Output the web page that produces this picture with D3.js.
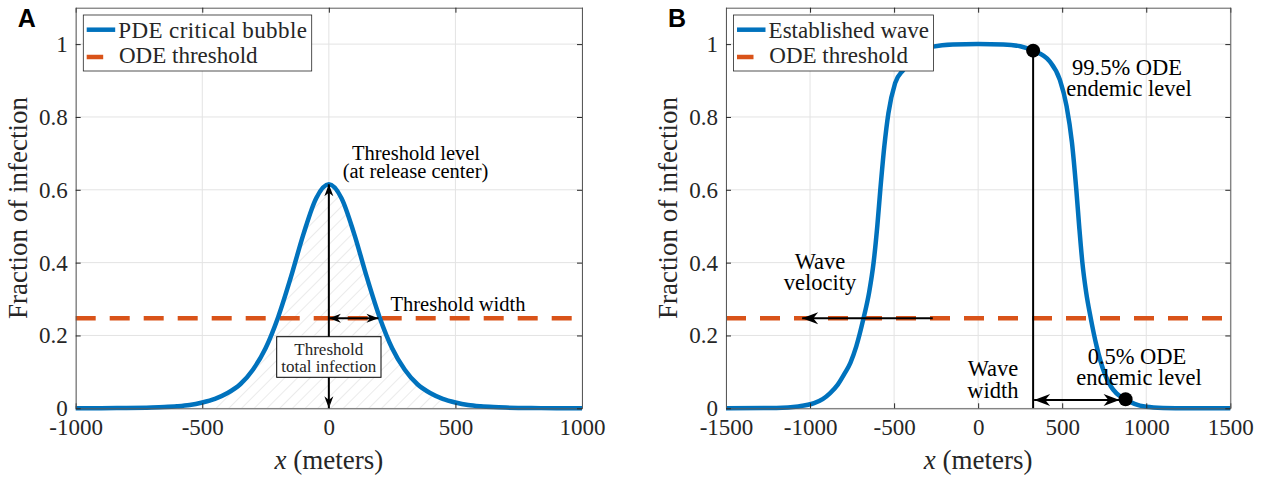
<!DOCTYPE html>
<html>
<head>
<meta charset="utf-8">
<script src="https://cdn.jsdelivr.net/npm/d3@7"></script>
<style>
  body { margin: 0; background: #fff; }
  svg text { font-family: "Liberation Serif", "Times New Roman", serif; fill: #262626; }
</style>
</head>
<body>
<svg id="chart" width="1271" height="479"></svg>
<script>
// ---- data ----
// panel A: critical bubble (x in meters, fraction of infection)
const bubbleX = [-1000, -900, -800, -700, -650, -600, -550, -500, -450, -400, -350, -300, -250, -200, -150, -100, -50, 0,
                 50, 100, 150, 200, 250, 300, 350, 400, 450, 500, 550, 600, 650, 700, 800, 900, 1000];
const bubbleY = [0.0001, 0.0003, 0.0007, 0.002, 0.0033, 0.0054, 0.009, 0.016, 0.026, 0.042, 0.066, 0.106, 0.165, 0.251, 0.36, 0.479, 0.577, 0.615,
                 0.577, 0.479, 0.36, 0.251, 0.165, 0.106, 0.066, 0.042, 0.026, 0.016, 0.009, 0.0054, 0.0033, 0.002, 0.0007, 0.0003, 0.0001];
// panel B: established wave
const waveX = [-1500, -1200, -1070, -976, -925, -882, -835, -795, -760, -725, -682, -648, -622, -600, -582, -558, -534, -494, -444, -400, -350, -268, -150, 0,
               150, 250, 327, 427, 486, 526, 558, 584, 601, 620, 642, 670, 705, 752, 790, 823, 877, 930, 1000, 1100, 1250, 1500];
const waveY = [0, 0.001, 0.005, 0.014, 0.025, 0.041, 0.065, 0.095, 0.125, 0.17, 0.247, 0.32, 0.40, 0.50, 0.60, 0.72, 0.81, 0.893, 0.93, 0.955, 0.975, 0.993, 0.999, 1.0,
               0.999, 0.994, 0.982, 0.952, 0.902, 0.83, 0.73, 0.60, 0.50, 0.40, 0.32, 0.247, 0.17, 0.096, 0.06, 0.041, 0.025, 0.012, 0.004, 0.001, 0, 0];
const odeThreshold = 0.247;
const yTicks = [0, 0.2, 0.4, 0.6, 0.8, 1];
const xTicksA = [-1000, -500, 0, 500, 1000];
const xTicksB = [-1500, -1000, -500, 0, 500, 1000, 1500];
const hatchRange = [-450, 450];
const thresholdWidth = 196;      // half width of bubble at the ODE threshold
const peakLevel = 0.615;
const waveTopX = 327, waveTopY = 0.982;   // 99.5% point
const waveLowX = 877, waveLowY = 0.025;   // 0.5% point
const velocityArrow = [-270, -1047];

const blue = "#0072BD", orange = "#D95319";
const svg = d3.select("#chart");

const defs = svg.append("defs");
// arrow heads (MATLAB-ish)
function head(id, len, half) {
    defs.append("marker")
        .attr("id", id)
        .attr("viewBox", `${-len - 1} ${-half - 1} ${len + 2} ${2 * half + 2}`)
        .attr("refX", 0).attr("refY", 0)
        .attr("markerWidth", len + 2).attr("markerHeight", 2 * half + 2)
        .attr("markerUnits", "userSpaceOnUse")
        .attr("orient", "auto-start-reverse")
        .append("path")
        .attr("d", `M0,0 L${-len},${-half} L${-len * 0.7},0 L${-len},${half} Z`)
        .attr("fill", "#000");
}
head("headA", 12, 4.5);
head("headB", 16, 6);
// hatch pattern
const pat = defs.append("pattern")
    .attr("id", "hatch")
    .attr("patternUnits", "userSpaceOnUse")
    .attr("width", 9).attr("height", 9)
    .attr("patternTransform", "rotate(45)");
pat.append("line")
    .attr("x1", 0).attr("y1", 0).attr("x2", 0).attr("y2", 9)
    .attr("stroke", "#d2d2d2").attr("stroke-width", 0.9);

function panel(opts) {
    const x = d3.scaleLinear().domain(opts.xDomain).range([opts.left, opts.right]);
    const y = d3.scaleLinear().domain([0, 1.1]).range([408.3, 7.7]);
    const g = svg.append("g");

    // grid
    g.append("g").selectAll("line")
        .data(opts.xTicks)
        .join("line")
        .attr("x1", d => x(d)).attr("x2", d => x(d))
        .attr("y1", y(0)).attr("y2", y(1.1))
        .attr("stroke", "#e3e3e3").attr("stroke-width", 1);
    g.append("g").selectAll("line")
        .data(yTicks)
        .join("line")
        .attr("x1", opts.left).attr("x2", opts.right)
        .attr("y1", d => y(d)).attr("y2", d => y(d))
        .attr("stroke", "#e3e3e3").attr("stroke-width", 1);

    return { x, y, g };
}

function axes(p, opts) {
    const { x, y, g } = p;
    const fmt = d => d3.format("")(d).replace("−", "-");
    const bottom = g.append("g")
        .attr("transform", `translate(0,${y(0)})`)
        .call(d3.axisBottom(x).tickValues(opts.xTicks).tickSize(-5).tickSizeOuter(0).tickPadding(11).tickFormat(fmt));
    const top = g.append("g")
        .attr("transform", `translate(0,${y(1.1)})`)
        .call(d3.axisTop(x).tickValues(opts.xTicks).tickSize(-5).tickSizeOuter(0).tickFormat(""));
    const left = g.append("g")
        .attr("transform", `translate(${opts.left},0)`)
        .call(d3.axisLeft(y).tickValues(yTicks).tickSize(-5).tickSizeOuter(0).tickPadding(8).tickFormat(d => d === 0 || d === 1 ? d : d3.format(".1f")(d)));
    const right = g.append("g")
        .attr("transform", `translate(${opts.right},0)`)
        .call(d3.axisRight(y).tickValues(yTicks).tickSize(-5).tickSizeOuter(0).tickFormat(""));
    [bottom, top, left, right].forEach(a => {
        a.select(".domain").attr("stroke", "#5a5a5a").attr("stroke-width", 1);
        a.selectAll(".tick line").attr("stroke", "#262626");
        a.selectAll("text").attr("font-size", 23).attr("fill", "#262626");
    });
    bottom.selectAll("text").attr("dy", "0.68em");

    // axis labels
    const xl = g.append("text")
        .attr("x", (opts.left + opts.right) / 2).attr("y", 469)
        .attr("text-anchor", "middle").attr("font-size", 27);
    xl.append("tspan").attr("font-style", "italic").text("x");
    xl.append("tspan").text(" (meters)");
    g.append("text")
        .attr("transform", `translate(${opts.left - 58},${y(0.55)}) rotate(-90)`)
        .attr("text-anchor", "middle").attr("dy", "0.35em")
        .attr("font-size", 27)
        .text("Fraction of infection");

    // panel letter
    g.append("text")
        .attr("x", opts.left - 58).attr("y", 27)
        .style("font-family", "'Liberation Sans', Arial, sans-serif").attr("font-weight", "bold")
        .attr("font-size", 25).style("fill", "#000")
        .text(opts.letter);
}

function legend(p, opts) {
    const lg = p.g.append("g");
    lg.append("rect")
        .attr("x", opts.left + 7.6).attr("y", 15)
        .attr("width", opts.legendW).attr("height", 56)
        .attr("fill", "#fff").attr("stroke", "#262626").attr("stroke-width", 0.8);
    lg.append("line")
        .attr("x1", opts.left + 11).attr("x2", opts.left + 39.5)
        .attr("y1", 29.7).attr("y2", 29.7)
        .attr("stroke", blue).attr("stroke-width", 4.5);
    lg.append("line")
        .attr("x1", opts.left + 11).attr("x2", opts.left + 27.5)
        .attr("y1", 57).attr("y2", 57)
        .attr("stroke", orange).attr("stroke-width", 4.5);
    lg.append("text").attr("x", opts.left + 42.6).attr("y", 29.7).attr("dy", "0.35em")
        .attr("font-size", 23).attr("letter-spacing", opts.spacing).text(opts.label);
    lg.append("text").attr("x", opts.left + 43.3).attr("y", 55).attr("dy", "0.35em")
        .attr("font-size", 23).text("ODE threshold");
}

function arrow(g, x1, y1, x2, y2, both, id) {
    const l = g.append("line")
        .attr("x1", x1).attr("y1", y1).attr("x2", x2).attr("y2", y2)
        .attr("stroke", "#000").attr("stroke-width", 2)
        .attr("marker-end", `url(#${id})`);
    if (both) l.attr("marker-start", `url(#${id})`);
}

// ---------------- panel A ----------------
const optsA = { left: 75.7, right: 582, xDomain: [-1000, 1000], xTicks: xTicksA, letter: "A", label: "PDE critical bubble", legendW: 228.4, spacing: 0.4 };
const pA = panel(optsA);
{
    const { x, y, g } = pA;
    const pts = bubbleX.map((d, i) => [d, bubbleY[i]]);
    const clipPts = pts.filter(d => d[0] >= hatchRange[0] && d[0] <= hatchRange[1]);
    g.append("path")
        .datum(clipPts)
        .attr("fill", "url(#hatch)")
        .attr("d", d3.area().x(d => x(d[0])).y0(y(0)).y1(d => y(d[1])).curve(d3.curveMonotoneX));

    g.append("line")
        .attr("x1", optsA.left).attr("x2", optsA.right)
        .attr("y1", y(odeThreshold)).attr("y2", y(odeThreshold))
        .attr("stroke", orange).attr("stroke-width", 4.5).attr("stroke-dasharray", "20,14");

    g.append("path")
        .datum(pts)
        .attr("fill", "none").attr("stroke", blue).attr("stroke-width", 4.5)
        .attr("stroke-linejoin", "round")
        .attr("d", d3.line().x(d => x(d[0])).y(d => y(d[1])).curve(d3.curveMonotoneX));

    // annotations
    arrow(g, x(0), y(0), x(0), y(peakLevel), true, "headA");
    arrow(g, x(0), y(odeThreshold), x(thresholdWidth), y(odeThreshold), true, "headA");

    g.append("rect")
        .attr("x", 276.7).attr("y", 336.7).attr("width", 104.3).attr("height", 40.6)
        .attr("fill", "#fff").attr("stroke", "#000").attr("stroke-width", 1);
    g.append("text").attr("x", 328.8).attr("y", 355).attr("text-anchor", "middle")
        .attr("font-size", 17).text("Threshold");
    g.append("text").attr("x", 328.8).attr("y", 371.5).attr("text-anchor", "middle")
        .attr("font-size", 17).text("total infection");

    g.append("text").attr("x", 416).attr("y", 160).attr("text-anchor", "middle")
        .attr("font-size", 20.5).style("fill", "#000").text("Threshold level");
    g.append("text").attr("x", 415.5).attr("y", 178).attr("text-anchor", "middle")
        .attr("font-size", 20.5).style("fill", "#000").text("(at release center)");
    g.append("text").attr("x", 458).attr("y", 310.5).attr("text-anchor", "middle")
        .attr("font-size", 20.5).style("fill", "#000").text("Threshold width");

    axes(pA, optsA);
    legend(pA, optsA);
}

// ---------------- panel B ----------------
const optsB = { left: 726, right: 1230.3, xDomain: [-1500, 1500], xTicks: xTicksB, letter: "B", label: "Established wave", legendW: 200, spacing: 0 };
const pB = panel(optsB);
{
    const { x, y, g } = pB;
    const pts = waveX.map((d, i) => [d, waveY[i]]);

    g.append("line")
        .attr("x1", optsB.left).attr("x2", optsB.right)
        .attr("y1", y(odeThreshold)).attr("y2", y(odeThreshold))
        .attr("stroke", orange).attr("stroke-width", 4.5).attr("stroke-dasharray", "20,14");

    g.append("path")
        .datum(pts)
        .attr("fill", "none").attr("stroke", blue).attr("stroke-width", 4.5)
        .attr("stroke-linejoin", "round")
        .attr("d", d3.line().x(d => x(d[0])).y(d => y(d[1])).curve(d3.curveMonotoneX));

    // vertical marker line and points
    g.append("line")
        .attr("x1", x(waveTopX)).attr("x2", x(waveTopX))
        .attr("y1", y(0)).attr("y2", y(waveTopY))
        .attr("stroke", "#000").attr("stroke-width", 2);
    arrow(g, x(waveTopX) + 1, y(0.023), x(waveLowX) - 6, y(0.023), true, "headB");
    arrow(g, x(velocityArrow[0]), y(odeThreshold), x(velocityArrow[1]), y(odeThreshold), false, "headB");

    g.selectAll("circle")
        .data([[waveTopX, waveTopY], [waveLowX, waveLowY]])
        .join("circle")
        .attr("cx", d => x(d[0])).attr("cy", d => y(d[1])).attr("r", 7)
        .attr("fill", "#000");

    const ann = [
        ["99.5% ODE", 1127, 74.5], ["endemic level", 1129, 95.5],
        ["Wave", 820, 269], ["velocity", 820, 290],
        ["Wave", 993, 376], ["width", 993, 397.5],
        ["0.5% ODE", 1137, 363.5], ["endemic level", 1139, 385]
    ];
    g.selectAll("text.ann")
        .data(ann)
        .join("text")
        .attr("class", "ann")
        .attr("x", d => d[1]).attr("y", d => d[2])
        .attr("text-anchor", "middle").attr("font-size", 22.5)
        .style("fill", "#000")
        .text(d => d[0]);

    axes(pB, optsB);
    legend(pB, optsB);
}
</script>
</body>
</html>
